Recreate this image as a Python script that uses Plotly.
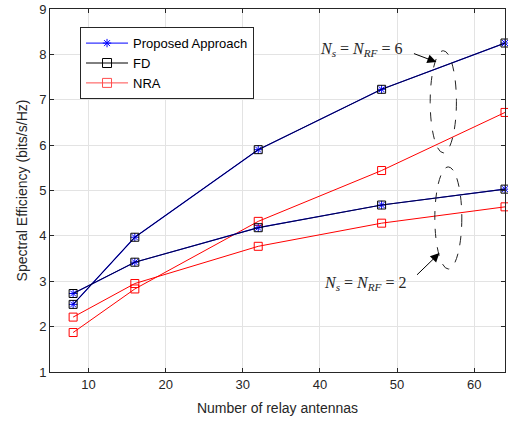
import plotly.graph_objects as go

relay_antennas = [8, 16, 32, 48, 64]
proposed_ns6 = [2.49, 3.97, 5.90, 7.23, 8.25]
proposed_ns2 = [2.73, 3.42, 4.18, 4.68, 5.03]
fd_ns6 = [2.49, 3.97, 5.90, 7.23, 8.25]
fd_ns2 = [2.73, 3.42, 4.18, 4.68, 5.03]
nra_ns6 = [1.87, 2.83, 4.32, 5.44, 6.72]
nra_ns2 = [2.21, 2.95, 3.77, 4.28, 4.64]
x_ticks = [10, 20, 30, 40, 50, 60]
y_ticks = [1, 2, 3, 4, 5, 6, 7, 8, 9]

fig = go.Figure()

def add(y, name, color, symbol, size, width=1, mcolor=None):
    fig.add_trace(go.Scatter(
        x=relay_antennas, y=y, mode="lines+markers", name=name,
        legendgroup=name, showlegend=False, cliponaxis=False,
        line=dict(color=color, width=width),
        marker=dict(symbol=symbol, size=size, color=mcolor or color,
                    line=dict(color=mcolor or color, width=1)),
    ))

add(nra_ns6, "NRA", "#ff0000", "square-open", 8)
add(nra_ns2, "NRA", "#ff0000", "square-open", 8)
add(proposed_ns6, "Proposed Approach", "#0000ff", "asterisk-open", 7, 1.2)
add(proposed_ns2, "Proposed Approach", "#0000ff", "asterisk-open", 7, 1.2)
add(fd_ns6, "FD", "rgba(0,0,30,0.88)", "square-open", 8, 1, "#000000")
add(fd_ns2, "FD", "rgba(0,0,30,0.88)", "square-open", 8, 1, "#000000")

# legend entries
for name, color, symbol, size in [("Proposed Approach", "#0000ff", "asterisk-open", 7),
                                  ("FD", "#000000", "square-open", 9),
                                  ("NRA", "#ff4d4d", "square-open", 9)]:
    fig.add_trace(go.Scatter(
        x=[None], y=[None], mode="lines+markers", name=name,
        line=dict(color=color, width=1),
        marker=dict(symbol=symbol, size=size, color=color,
                    line=dict(color=color if name != "NRA" else "#ff0000", width=1)),
    ))

# dashed ellipses
fig.add_shape(type="circle", xref="x", yref="y", x0=54.3, x1=57.7, y0=5.83, y1=8.08,
              line=dict(color="#222222", width=1, dash="dash"))
fig.add_shape(type="circle", xref="x", yref="y", x0=54.9, x1=58.4, y0=3.27, y1=5.52,
              line=dict(color="#222222", width=1, dash="dash"))

serif = "Liberation Serif, DejaVu Serif, serif"
fig.add_annotation(x=45.3, y=8.11, xref="x", yref="y", showarrow=False,
                   text="<i>N<sub>s</sub></i> = <i>N<sub>RF</sub></i> = 6",
                   font=dict(family=serif, size=16, color="#262626"))
fig.add_annotation(x=45.8, y=2.96, xref="x", yref="y", showarrow=False,
                   text="<i>N<sub>s</sub></i> = <i>N<sub>RF</sub></i> = 2",
                   font=dict(family=serif, size=16, color="#262626"))
fig.add_annotation(x=55.1, y=7.83, ax=52.0, ay=8.03, xref="x", yref="y",
                   axref="x", ayref="y", showarrow=True, text="",
                   arrowhead=2, arrowsize=1.8, arrowwidth=1, arrowcolor="#000000")
fig.add_annotation(x=55.5, y=3.62, ax=52.4, ay=3.11, xref="x", yref="y",
                   axref="x", ayref="y", showarrow=True, text="",
                   arrowhead=2, arrowsize=1.8, arrowwidth=1, arrowcolor="#000000")

axis_common = dict(
    showgrid=True, gridcolor="#e3e3e3", gridwidth=1,
    showline=True, linecolor="#262626", linewidth=1, mirror="ticks",
    ticks="inside", ticklen=4, tickcolor="#262626",
    tickfont=dict(family="Liberation Sans, Arial, sans-serif", size=13, color="#262626"),
    zeroline=False, automargin=False,
)

fig.update_layout(
    width=508, height=421,
    margin=dict(l=50, r=3, t=9, b=49),
    paper_bgcolor="white", plot_bgcolor="white",
    font=dict(family="Liberation Sans, Arial, sans-serif", color="#262626"),
    xaxis=dict(range=[5, 64], tickvals=x_ticks,
               title=dict(text="Number of relay antennas", font=dict(size=14), standoff=12),
               **axis_common),
    yaxis=dict(range=[1, 9], tickvals=y_ticks,
               title=dict(text="Spectral Efficiency (bits/s/Hz)", font=dict(size=14), standoff=8),
               **axis_common),
    legend=dict(x=0.066, y=0.95, xanchor="left", yanchor="top",
                bgcolor="white", bordercolor="#262626", borderwidth=1,
                font=dict(size=13, color="#000000"), tracegroupgap=0,
                itemwidth=42),
    showlegend=True,
)

fig.write_html("out.html", config={"displayModeBar": False},
               post_script="document.body.style.margin='0';document.body.style.overflow='hidden';")
